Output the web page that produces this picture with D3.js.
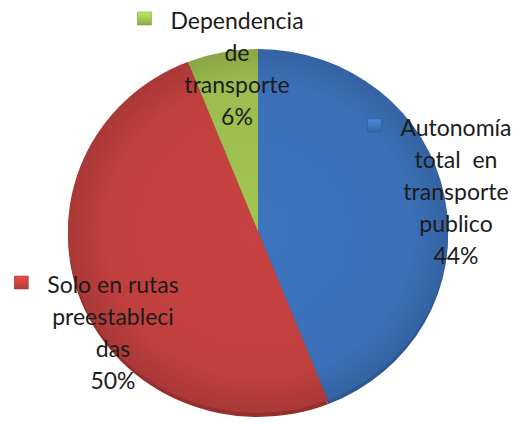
<!DOCTYPE html>
<html>
<head>
<meta charset="utf-8">
<script src="https://cdn.jsdelivr.net/npm/d3@7.9.0/dist/d3.min.js"></script>
<style>
  body { margin: 0; background: #fff; }
  svg text { font-family: Lato, "Open Sans", sans-serif; fill: #1c1c1c; white-space: pre; }
</style>
</head>
<body>
<svg width="520" height="423"></svg>
<script>
// data, clockwise from 12 o'clock
const categories = ['Autonomía total  en transporte publico', 'Solo en rutas preestablecidas', 'Dependencia de transporte'];
const values = [44, 50, 6];
const labelLines = [
  ['Autonomía', 'total  en', 'transporte', 'publico'],
  ['Solo en rutas', 'preestableci', 'das'],
  ['Dependencia', 'de', 'transporte'],
];
const colors = ['#3b70b8', '#c0403e', '#9bbd4f'];
const darker = ['#2d5892', '#962e2c', '#779338'];

// layout
const cx = 258, cy = 231, rx = 190, ry = 182;
const lineH = 32;
// label anchor: centre x, first baseline
const labelAt = [[456, 136], [113, 293], [237, 29]];

const svg = d3.select('svg');
const defs = svg.append('defs');

colors.forEach((c, i) => {
  const g = defs.append('radialGradient').attr('id', `g${i}`)
    .attr('gradientUnits', 'userSpaceOnUse')
    .attr('cx', 0).attr('cy', 0).attr('r', 1);
  g.append('stop').attr('offset', '0%').attr('stop-color', d3.color(c).brighter(0.12));
  g.append('stop').attr('offset', '80%').attr('stop-color', c);
  g.append('stop').attr('offset', '100%').attr('stop-color', d3.color(c).darker(0.35));
  const m = defs.append('linearGradient').attr('id', `m${i}`)
    .attr('x1', 0).attr('y1', 0).attr('x2', 0).attr('y2', 1);
  m.append('stop').attr('offset', '0%').attr('stop-color', d3.color(c).brighter(0.6));
  m.append('stop').attr('offset', '100%').attr('stop-color', d3.color(c).darker(0.3));
});

const pie = d3.pie().sort(null).value(d => d);
const arcs = pie(values);
const arc = d3.arc().innerRadius(0).outerRadius(1);

// depth layer (thin 3D rim)
const depth = svg.append('g')
  .attr('transform', `translate(${cx},${cy + 4}) scale(${rx},${ry})`);
depth.selectAll('path').data(arcs).join('path')
  .attr('d', arc)
  .attr('fill', (d, i) => darker[i]);

const pieG = svg.append('g')
  .attr('transform', `translate(${cx},${cy}) scale(${rx},${ry})`);
pieG.selectAll('path').data(arcs).join('path')
  .attr('d', arc)
  .attr('fill', (d, i) => `url(#g${i})`);

// labels
const fs = 23;
labelLines.forEach((lines, i) => {
  const [x, y] = labelAt[i];
  const t = svg.append('text')
    .attr('text-anchor', 'middle')
    .style('font-size', fs + 'px');
  const all = lines.concat([`${values[i]}%`]);
  all.forEach((s, k) => {
    t.append('tspan').attr('x', x).attr('y', y + k * lineH).text(s);
  });
  // legend marker before first line
  const w = t.select('tspan').node().getComputedTextLength();
  svg.append('rect')
    .attr('x', x - w / 2 - 33).attr('y', y - 17)
    .attr('width', 14).attr('height', 13)
    .attr('fill', `url(#m${i})`)
    .attr('stroke', darker[i]).attr('stroke-width', 0.5);
});
</script>
</body>
</html>
